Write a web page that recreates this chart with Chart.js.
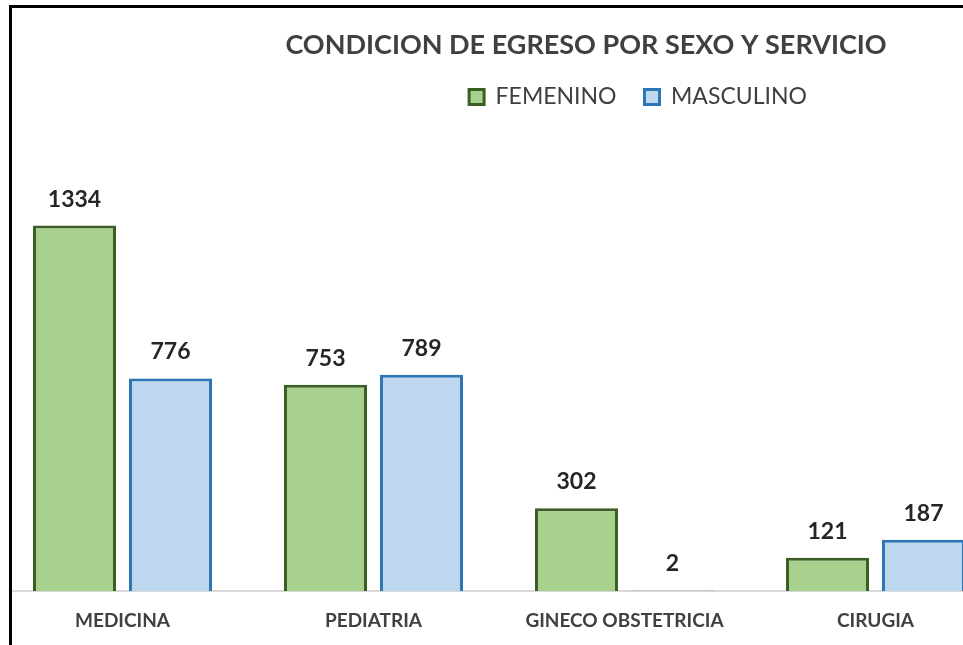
<!DOCTYPE html>
<html>
<head>
<meta charset="utf-8">
<script src="https://cdn.jsdelivr.net/npm/chart.js@4/dist/chart.umd.min.js"></script>
<style>
  html, body { margin: 0; padding: 0; background: #fff; }
  body { width: 963px; height: 645px; position: relative; overflow: hidden; }
  #frame { position: absolute; left: 9px; top: 5px; width: 960px; height: 650px;
           border-left: 3px solid #000; border-top: 3px solid #000; overflow: hidden; background: #fff; }
  #wrap { position: absolute; left: -15px; top: 0px; width: 1178px; height: 637px; }
</style>
</head>
<body>
<div id="frame"><div id="wrap"><canvas id="c" width="1178" height="637"></canvas></div></div>
<script>
const chartTitle = 'CONDICION DE EGRESO POR SEXO Y SERVICIO';
const categories = ['MEDICINA', 'PEDIATRIA', 'GINECO OBSTETRICIA', 'CIRUGIA'];
const seriesNames = ['FEMENINO', 'MASCULINO'];
const femenino = [1334, 753, 302, 121];
const masculino = [776, 789, 2, 187];

const labelPlugin = {
  id: 'valueLabels',
  afterDatasetsDraw(chart) {
    const ctx = chart.ctx;
    ctx.save();
    ctx.font = 'bold 23px Lato';
    ctx.fillStyle = '#262626';
    ctx.textAlign = 'center';
    ctx.textBaseline = 'alphabetic';
    chart.data.datasets.forEach((ds, i) => {
      chart.getDatasetMeta(i).data.forEach((el, j) => {
        ctx.fillText(String(ds.data[j]), el.x, el.y - 19);
      });
    });
    ctx.restore();
  }
};
const legendShift = {
  id: 'legendShift',
  afterLayout(chart) {
    chart.legend.left += 52;
    chart.legend.right += 52;
  }
};

new Chart(document.getElementById('c'), {
  type: 'bar',
  data: {
    labels: categories,
    datasets: [
      { label: seriesNames[0], data: femenino, backgroundColor: '#a9d18e', borderColor: '#3b5e24', borderWidth: 3 },
      { label: seriesNames[1], data: masculino, backgroundColor: '#bdd7ee', borderColor: '#2e75b6', borderWidth: 3 }
    ]
  },
  options: {
    responsive: false,
    animation: false,
    devicePixelRatio: 1,
    layout: { padding: 0 },
    datasets: { bar: { categoryPercentage: 0.765, barPercentage: 0.865 } },
    plugins: {
      title: {
        display: true, text: chartTitle, color: '#404040',
        font: { family: 'Lato', size: 27, weight: 'bold' },
        padding: { top: 21, bottom: -4 }
      },
      legend: {
        display: true, position: 'top',
        labels: {
          color: '#404040', font: { family: 'Lato', size: 23 },
          boxWidth: 15, boxHeight: 15, padding: 28
        }
      },
      tooltip: { enabled: false }
    },
    scales: {
      x: {
        grid: { display: false },
        border: { display: true, color: '#d9d9d9', width: 2 },
        ticks: { color: '#404040', font: { family: 'Lato', size: 19, weight: 'bold' }, padding: 10, maxRotation: 0 },
        afterFit(s) { s.height = 54; }
      },
      y: {
        position: 'right', min: 0, max: 1725,
        grid: { display: false }, border: { display: false },
        ticks: { display: false },
        afterFit(s) { s.width = 174; }
      }
    }
  },
  plugins: [labelPlugin, legendShift]
});
</script>
</body>
</html>
